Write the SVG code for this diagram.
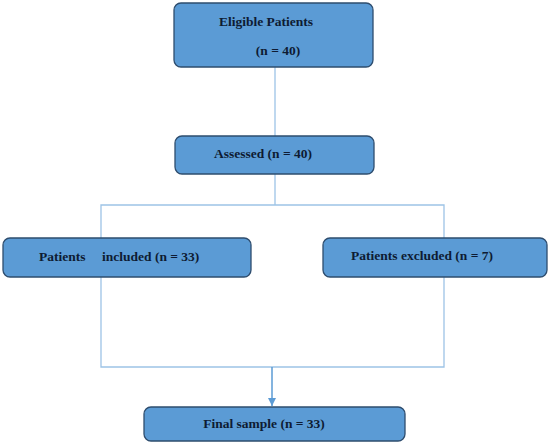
<svg xmlns="http://www.w3.org/2000/svg" width="550" height="444" viewBox="0 0 550 444">
<style>
.box{fill:#5b9bd5;stroke:#2e4d6e;stroke-width:1.3}
.t{font-family:"Liberation Serif","DejaVu Serif",serif;font-weight:bold;font-size:13.5px;fill:#0e1b33}
.ln{stroke:#9dc3e6;stroke-width:1.3;fill:none}
</style>
<defs>
<marker id="ah" viewBox="0 0 10 10" refX="10" refY="5" markerWidth="8" markerHeight="8" markerUnits="userSpaceOnUse" orient="auto">
<path d="M0,0 L10,5 L0,10 z" fill="#5b9bd5"/>
</marker>
</defs>
<rect width="550" height="444" fill="#ffffff"/>
<g id="connectors">
<line class="ln" x1="275" y1="67" x2="275" y2="136"/>
<line class="ln" x1="275" y1="174" x2="275" y2="205"/>
<polyline class="ln" points="101,238 101,205 444,205 444,238"/>
<polyline class="ln" points="101,277 101,367 444,367 444,277"/>
<line x1="272" y1="367" x2="272" y2="406" stroke="#5b9bd5" stroke-width="1.5" marker-end="url(#ah)"/>
</g>
<g id="eligible">
<rect class="box" x="174" y="3" width="199" height="64" rx="7"/>
<text class="t" x="266" y="26" text-anchor="middle">Eligible Patients</text>
<text class="t" x="278" y="55" text-anchor="middle">(n = 40)</text>
</g>
<g id="assessed">
<rect class="box" x="175" y="136" width="199" height="38" rx="7"/>
<text class="t" x="263" y="158" text-anchor="middle">Assessed (n = 40)</text>
</g>
<g id="included">
<rect class="box" x="3" y="238" width="248" height="39" rx="7"/>
<text class="t" x="39" y="261">Patients</text>
<text class="t" x="102" y="261">included (n = 33)</text>
</g>
<g id="excluded">
<rect class="box" x="323" y="238" width="224" height="39" rx="7"/>
<text class="t" x="422" y="260" text-anchor="middle">Patients excluded (n = 7)</text>
</g>
<g id="final">
<rect class="box" x="144" y="407" width="261" height="34" rx="7"/>
<text class="t" x="264" y="428" text-anchor="middle">Final sample (n = 33)</text>
</g>
</svg>
